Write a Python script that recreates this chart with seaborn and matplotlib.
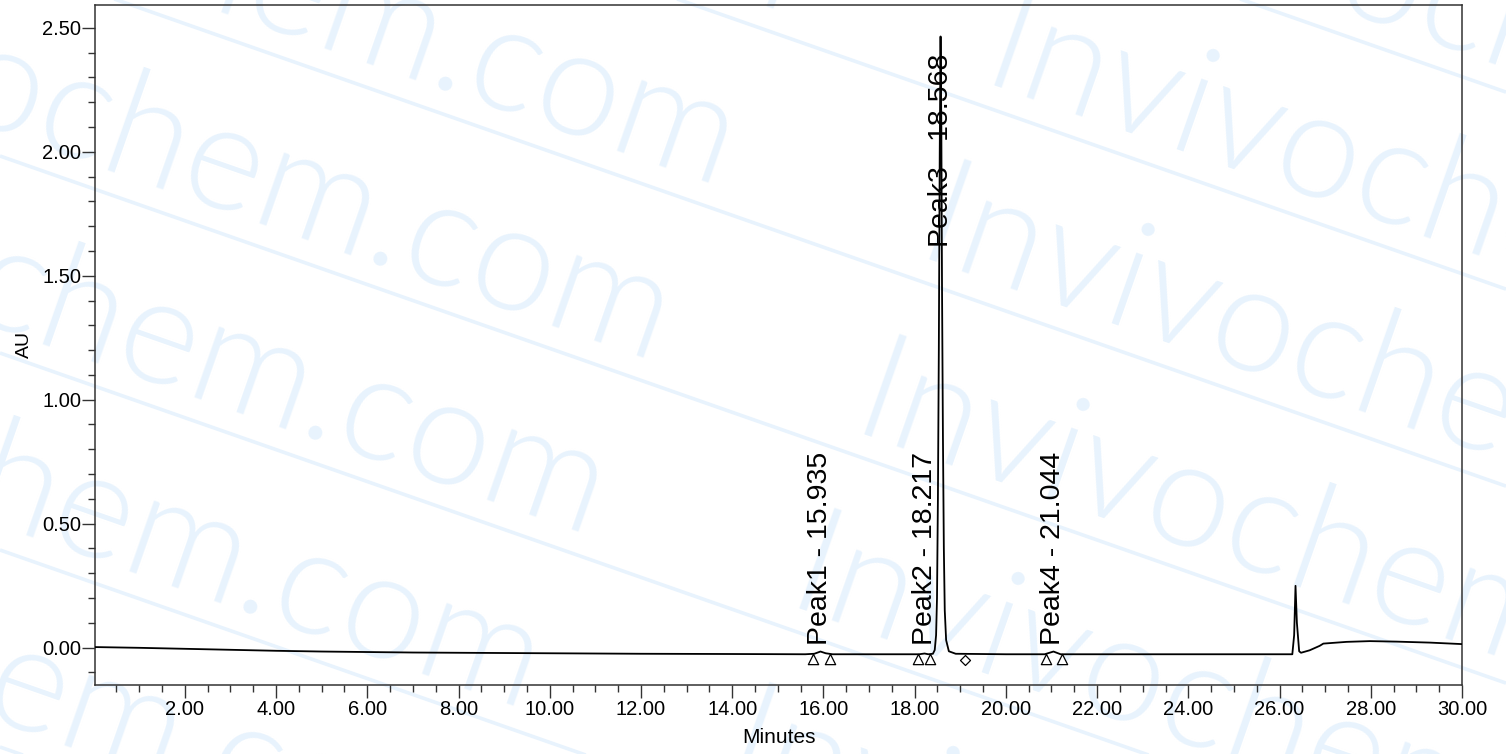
import numpy as np
import pandas as pd
import matplotlib
matplotlib.use("Agg")
import matplotlib.pyplot as plt
from matplotlib.ticker import MultipleLocator, FormatStrFormatter
import seaborn as sns

# ——— Data ———
time_min = [0.03, 1.0, 2.0, 3.0, 4.0, 5.0, 6.0, 7.0, 8.0, 9.0, 10.0, 12.0, 14.0,
            15.6, 15.8, 15.935, 16.05, 16.2, 17.5, 18.1, 18.217, 18.3, 18.40,
            18.44, 18.47, 18.49, 18.51, 18.53, 18.55, 18.568, 18.585, 18.60,
            18.62, 18.64, 18.66, 18.69, 18.75, 18.90, 20.0, 20.85, 21.044,
            21.2, 22.0, 24.0, 26.28, 26.32, 26.35, 26.38, 26.43, 26.47, 26.66,
            26.88, 26.96, 27.47, 27.98, 28.56, 29.30, 30.0]
absorbance = [0.002, -0.001, -0.005, -0.009, -0.013, -0.016, -0.018, -0.020,
              -0.021, -0.022, -0.023, -0.025, -0.026, -0.027, -0.025, -0.016,
              -0.023, -0.027, -0.027, -0.027, -0.024, -0.027, -0.025, -0.010,
              0.050, 0.200, 0.600, 1.200, 2.000, 2.465, 2.100, 1.450, 0.850,
              0.400, 0.150, 0.030, -0.015, -0.025, -0.027, -0.027, -0.016,
              -0.027, -0.027, -0.027, -0.027, 0.050, 0.249, 0.100, -0.015,
              -0.021, -0.011, 0.007, 0.016, 0.023, 0.026, 0.024, 0.020, 0.014]

peak_names = ["Peak1", "Peak2", "Peak3", "Peak4"]
peak_times = [15.935, 18.217, 18.568, 21.044]
label_base = [0.011, 0.011, 1.615, 0.011]

tri_times = [15.77, 16.14, 18.08, 18.33, 20.89, 21.24]
tri_levels = [-0.047, -0.047, -0.047, -0.047, -0.047, -0.047]
dia_times = [19.11]
dia_levels = [-0.051]

# ——— Configuration ———
W, H, DPI = 1506, 754, 100
wm_color = "#e8f3fd"
wm_slope = 0.35                       # watermark baseline slope (pixels)
wm_angle = -np.degrees(np.arctan(wm_slope))
wm_rows = range(-2, 5)

sns.set_theme(style="ticks")
plt.rcParams["font.family"] = ["Liberation Sans", "DejaVu Sans"]

fig = plt.figure(figsize=(W / DPI, H / DPI), dpi=DPI)
fig.patch.set_facecolor("white")

# watermark layer in pixel coordinates
bg = fig.add_axes([0, 0, 1, 1], zorder=-1)
bg.set_xlim(0, W)
bg.set_ylim(H, 0)
bg.axis("off")
for k in wm_rows:
    c = -60 + 197 * k
    for x0 in (913 - 65 * k, 913 - 65 * k - 1186):
        bg.text(x0, c + wm_slope * x0, "Invivochem.com", rotation=wm_angle,
                rotation_mode="anchor", ha="left", va="baseline",
                fontsize=108, color=wm_color,
                family=["Lato", "Liberation Sans"], fontweight=300)
    lc = c + 19
    bg.plot([0, W], [lc, lc + wm_slope * W], color=wm_color, lw=2.6,
            solid_capstyle="butt")

# main chromatogram
ax = fig.add_axes([95 / W, 1 - 685 / H, (1462 - 95) / W, (685 - 5) / H])
ax.set_facecolor("none")

trace = pd.DataFrame({"Minutes": time_min, "AU": absorbance})
sns.lineplot(data=trace, x="Minutes", y="AU", sort=False, estimator=None,
             color="black", lw=1.3, ax=ax, zorder=3)

sns.scatterplot(x=tri_times, y=tri_levels, marker="^", s=55, color="white",
                edgecolor="black", linewidth=0.9, ax=ax, zorder=4)
sns.scatterplot(x=dia_times, y=dia_levels, marker="D", s=26, color="white",
                edgecolor="black", linewidth=0.9, ax=ax, zorder=4)

for name, rt, yb in zip(peak_names, peak_times, label_base):
    ax.text(rt, yb, f"{name} - {rt:.3f}", rotation=90, ha="center",
            va="bottom", fontsize=20.5, color="black", zorder=5)

ax.set_xlim(0.03, 30.0)
ax.set_ylim(-0.151, 2.592)
ax.xaxis.set_major_locator(MultipleLocator(2))
ax.xaxis.set_minor_locator(MultipleLocator(0.5))
ax.yaxis.set_major_locator(MultipleLocator(0.5))
ax.yaxis.set_minor_locator(MultipleLocator(0.1))
ax.xaxis.set_major_formatter(FormatStrFormatter("%.2f"))
ax.yaxis.set_major_formatter(FormatStrFormatter("%.2f"))

ax.tick_params(which="major", direction="out", length=9.4, width=1.0,
               color="#333333", labelsize=14.5, labelcolor="black")
ax.tick_params(axis="x", which="major", pad=1.5)
ax.tick_params(axis="y", which="major", pad=0.5)
ax.tick_params(which="minor", direction="out", length=5, width=1.0,
               color="#333333")
for side in ["left", "right", "top", "bottom"]:
    ax.spines[side].set_visible(True)
    ax.spines[side].set_color("#333333")
    ax.spines[side].set_linewidth(1.1)

ax.set_xlabel("Minutes", fontsize=15, color="black")
ax.set_ylabel("AU", fontsize=14, color="black")
ax.xaxis.set_label_coords(0.5, -0.063)
ax.yaxis.set_label_coords(-0.0454, 0.5)

fig.savefig("out.png", dpi=DPI, facecolor="white")
plt.close(fig)
